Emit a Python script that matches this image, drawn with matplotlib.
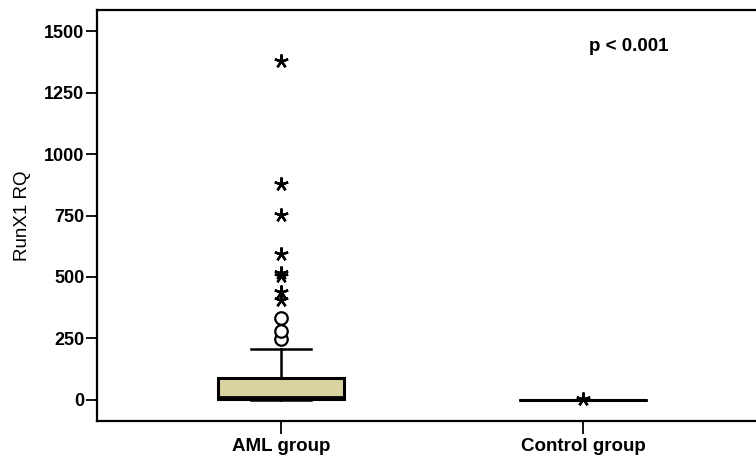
import matplotlib
matplotlib.use("Agg")
import matplotlib.pyplot as plt

plt.rcParams['font.family'] = ['Liberation Sans', 'DejaVu Sans']

groups = ['AML group', 'Control group']

# box statistics (RunX1 RQ)
q1 = [6, 0.5]
med = [12, 1]
q3 = [88, 1.5]
whislo = [0, 0.5]
whishi = [208, 1.5]

# SPSS style: circles = outliers, stars = extreme values
aml_outliers = [247, 280, 332]
aml_extremes = [406, 440, 505, 515, 593, 752, 878, 1379]
ctrl_extremes = [6]

stats = []
for i, g in enumerate(groups):
    stats.append(dict(label=g, q1=q1[i], med=med[i], q3=q3[i],
                      whislo=whislo[i], whishi=whishi[i], fliers=[]))

fig = plt.figure(figsize=(7.56, 4.59), dpi=100)
ax = fig.add_axes([0.128, 0.083, 0.887, 0.895])

ax.bxp(stats, positions=[1, 2], widths=0.417, patch_artist=True,
       showfliers=False,
       boxprops=dict(facecolor='#d8d3a0', edgecolor='black', linewidth=2.2),
       medianprops=dict(color='black', linewidth=2.0),
       whiskerprops=dict(color='black', linewidth=1.8),
       capprops=dict(color='black', linewidth=1.8),
       capwidths=[0.2, 0.417])

ax.plot([1] * len(aml_outliers), aml_outliers, 'o', ms=9, mfc='white',
        mec='black', mew=1.6)
star = (5, 2, 0)
ax.plot([1] * len(aml_extremes), aml_extremes, ls='none', marker=star,
        ms=10, mec='black', mew=1.7)
ax.plot([2] * len(ctrl_extremes), ctrl_extremes, ls='none', marker=star,
        ms=10, mec='black', mew=1.7)

ax.set_xlim(0.39, 2.61)
ax.set_ylim(-85, 1585)
ax.set_yticks([0, 250, 500, 750, 1000, 1250, 1500])
ax.set_xticks([1, 2])
ax.set_xticklabels(groups, fontsize=13.5, fontweight='bold')
for t in ax.get_yticklabels():
    t.set_fontweight('bold')
    t.set_fontsize(13)
ax.tick_params(axis='y', length=8, width=1.3, pad=1)
ax.tick_params(axis='x', length=9.5, width=1.3, pad=3)
for s in ax.spines.values():
    s.set_linewidth(1.6)

ax.set_ylabel('RunX1 RQ', fontsize=13.5)
ax.yaxis.set_label_coords(-0.0985, 0.5)
ax.text(2.02, 1439, 'p < 0.001', fontsize=13.5, fontweight='bold',
        va='center', ha='left')

fig.savefig('out.png', dpi=100)
